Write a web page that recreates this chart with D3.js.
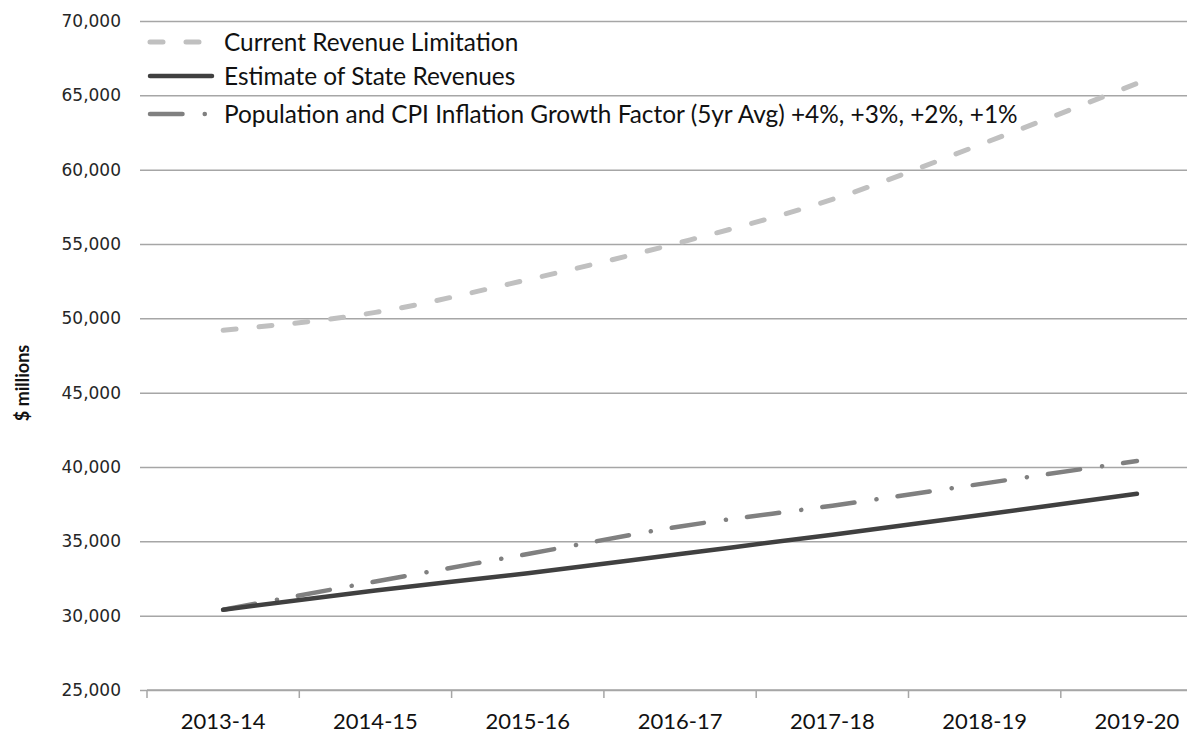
<!DOCTYPE html>
<html>
<head>
<meta charset="utf-8">
<script src="https://cdn.jsdelivr.net/npm/d3@7"></script>
<style>
  body { margin: 0; background: #fff; }
  svg { display: block; }
</style>
</head>
<body>
<div id="chart"></div>
<script>
// fiscal years on the x axis
var years = ["2013-14", "2014-15", "2015-16", "2016-17", "2017-18", "2018-19", "2019-20"];

// $ millions
var revenueLimit = [49200, 50400, 52600, 55100, 58000, 61800, 65800];
var stateRevenues = [30400, 31700, 32850, 34150, 35450, 36800, 38200];
var growthFactor = [30400, 32300, 34150, 36000, 37400, 38900, 40400];

var yTicks = [25000, 30000, 35000, 40000, 45000, 50000, 55000, 60000, 65000, 70000];

var seriesNames = [
  "Current Revenue Limitation",
  "Estimate of State Revenues",
  "Population and CPI Inflation Growth Factor (5yr Avg) +4%, +3%, +2%, +1%"
];

var svgWidth = 1194;
var svgHeight = 745;

var plotLeft = 147;
var plotRight = 1187;
var plotTop = 21;
var plotBottom = 690;
var step = 152.3;

var svg = d3.select("#chart")
  .append("svg")
  .attr("width", svgWidth)
  .attr("height", svgHeight);

var xScale = d3.scaleBand()
  .domain(years)
  .range([plotLeft, plotLeft + step * years.length])
  .padding(0);

var yScale = d3.scaleLinear()
  .domain([25000, 70000])
  .range([plotBottom, plotTop]);

// gridlines + y ticks
var yAxis = d3.axisLeft(yScale)
  .tickValues(yTicks)
  .tickSize(7)
  .tickPadding(19)
  .tickFormat(d3.format(","));

var yAxisGroup = svg.append("g")
  .attr("transform", `translate(${plotLeft}, 0)`)
  .call(yAxis);

yAxisGroup.select(".domain").remove();
yAxisGroup.selectAll(".tick line")
  .attr("x1", -7)
  .attr("x2", plotRight - plotLeft)
  .attr("stroke", "#a6a6a6")
  .attr("stroke-width", 1.5);
yAxisGroup.selectAll(".tick text")
  .attr("font-family", "'DejaVu Sans', Verdana, sans-serif")
  .attr("font-size", "17px")
  .attr("fill", "#262626");

// x axis line and boundary ticks
svg.append("line")
  .attr("x1", plotLeft)
  .attr("x2", plotRight)
  .attr("y1", plotBottom)
  .attr("y2", plotBottom)
  .attr("stroke", "#a6a6a6")
  .attr("stroke-width", 1.5);

svg.selectAll(".x-tick")
  .data(years)
  .enter()
  .append("line")
  .attr("class", "x-tick")
  .attr("x1", d => xScale(d))
  .attr("x2", d => xScale(d))
  .attr("y1", plotBottom)
  .attr("y2", plotBottom + 8)
  .attr("stroke", "#a6a6a6")
  .attr("stroke-width", 1.5);

var xAxis = d3.axisBottom(xScale)
  .tickSize(0)
  .tickPadding(23);

var xAxisGroup = svg.append("g")
  .attr("transform", `translate(0, ${plotBottom})`)
  .call(xAxis);

xAxisGroup.select(".domain").remove();
xAxisGroup.selectAll(".tick text")
  .attr("font-family", "Lato, 'Open Sans', sans-serif")
  .attr("font-size", "22px")
  .attr("fill", "#111");

// y axis title
svg.append("text")
  .attr("transform", "translate(29, 383) rotate(-90)")
  .attr("text-anchor", "middle")
  .attr("font-family", "Lato, 'Open Sans', sans-serif")
  .attr("font-weight", "bold")
  .attr("font-size", "18px")
  .attr("fill", "#111")
  .text("$ millions");

// lines
var styles = [
  { color: "#c0c0c0", width: 5, dash: "13,23" },
  { color: "#404040", width: 4.5, dash: null },
  { color: "#808080", width: 4.5, dash: "32.5,22.2,0.1,21.2" }
];
var allSeries = [revenueLimit, stateRevenues, growthFactor];

var lineGen = d3.line()
  .x((d, i) => xScale(years[i]) + xScale.bandwidth() / 2)
  .y(d => yScale(d))
  .curve(d3.curveMonotoneX);

// draw the light one first, dark solid on top of the dash-dot
[0, 2, 1].forEach(function(k) {
  svg.append("path")
    .datum(allSeries[k])
    .attr("d", lineGen)
    .attr("fill", "none")
    .attr("stroke", styles[k].color)
    .attr("stroke-width", styles[k].width)
    .attr("stroke-linecap", "round")
    .attr("stroke-linejoin", "round")
    .attr("stroke-dasharray", styles[k].dash);
});

// legend
var legendY = [42, 76, 114];
var legend = svg.append("g");

seriesNames.forEach(function(name, k) {
  legend.append("line")
    .attr("x1", 150)
    .attr("x2", 212)
    .attr("y1", legendY[k])
    .attr("y2", legendY[k])
    .attr("stroke", styles[k].color)
    .attr("stroke-width", styles[k].width)
    .attr("stroke-linecap", "round")
    .attr("stroke-dasharray", styles[k].dash);

  legend.append("text")
    .attr("x", 224)
    .attr("y", legendY[k])
    .attr("dy", "0.35em")
    .attr("font-family", "Lato, 'Open Sans', sans-serif")
    .attr("font-size", "24.4px")
    .attr("fill", "#111")
    .text(name);
});
</script>
</body>
</html>
